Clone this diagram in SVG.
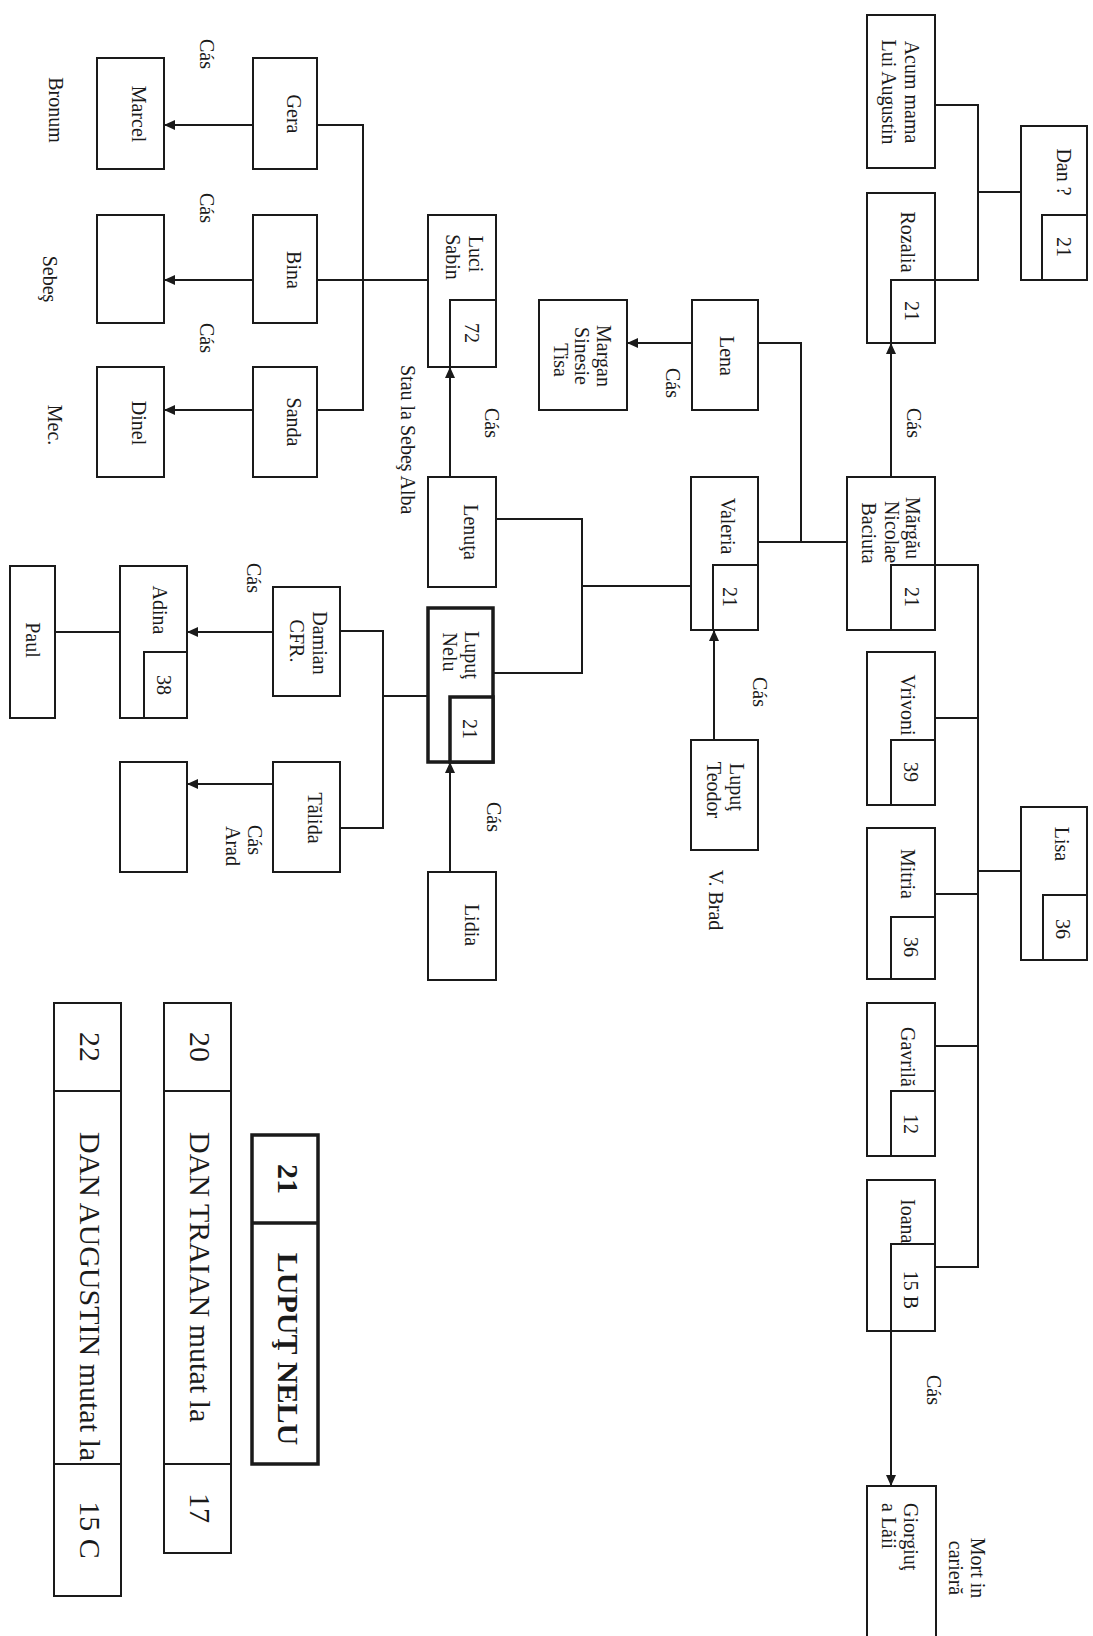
<svg xmlns="http://www.w3.org/2000/svg" width="1093" height="1636" viewBox="0 0 1093 1636">
<style>
.b{fill:#fff;stroke:#1a1a1a;stroke-width:2}
.bb{fill:#fff;stroke:#1a1a1a;stroke-width:3.5}
.c{fill:none;stroke:#1a1a1a;stroke-width:2}
.a{fill:none;stroke:#1a1a1a;stroke-width:2;marker-end:url(#ah)}
.t{font-family:"Liberation Serif","Times New Roman",serif;font-size:20px;fill:#1a1a1a;text-anchor:middle;dominant-baseline:central}
.s{text-anchor:start}
.L{font-size:30px}
.w{font-weight:bold}
</style>
<defs>
<marker id="ah" markerUnits="userSpaceOnUse" markerWidth="11" markerHeight="10" refX="11" refY="5" orient="auto">
<path d="M0,0 L11,5 L0,10 z" fill="#1a1a1a"/>
</marker>
</defs>
<rect x="0" y="0" width="1093" height="1636" fill="#fff"/>

<g id="connectors">
<polyline class="c" points="317,125 363,125 363,410 317,410"/>
<line class="c" x1="317" y1="280" x2="428" y2="280"/>
<line class="a" x1="253" y1="125" x2="164" y2="125"/>
<line class="a" x1="253" y1="280" x2="164" y2="280"/>
<line class="a" x1="253" y1="410" x2="164" y2="410"/>
<line class="a" x1="450" y1="477" x2="450" y2="367"/>
<polyline class="c" points="496,519 582,519 582,673 493,673"/>
<line class="c" x1="582" y1="586" x2="691" y2="586"/>
<line class="c" x1="428" y1="696" x2="383" y2="696"/>
<polyline class="c" points="340,631 383,631 383,828 340,828"/>
<line class="a" x1="273" y1="632" x2="187" y2="632"/>
<line class="a" x1="273" y1="784" x2="187" y2="784"/>
<line class="c" x1="120" y1="632" x2="55" y2="632"/>
<line class="a" x1="450" y1="872" x2="450" y2="762"/>
<line class="a" x1="692" y1="343" x2="627" y2="343"/>
<polyline class="c" points="758,343 801,343 801,542"/>
<line class="c" x1="758" y1="542" x2="847" y2="542"/>
<line class="a" x1="714" y1="740" x2="714" y2="630"/>
<line class="a" x1="891" y1="477" x2="891" y2="343"/>
<polyline class="c" points="935,105 978,105 978,280 935,280"/>
<line class="c" x1="1021" y1="192" x2="978" y2="192"/>
<polyline class="c" points="935,565 978,565 978,1267 935,1267"/>
<line class="c" x1="935" y1="718" x2="978" y2="718"/>
<line class="c" x1="935" y1="894" x2="978" y2="894"/>
<line class="c" x1="935" y1="1046" x2="978" y2="1046"/>
<line class="c" x1="978" y1="871" x2="1021" y2="871"/>
<line class="a" x1="891" y1="1331" x2="891" y2="1486"/>
</g>

<g id="n-marcel"><rect class="b" x="97" y="58" width="67" height="111"/><text class="t" transform="translate(139,114) rotate(90)">Marcel</text></g>
<g id="n-gera"><rect class="b" x="253" y="58" width="64" height="111"/><text class="t" transform="translate(294,114) rotate(90)">Gera</text></g>
<g id="n-bina"><rect class="b" x="253" y="215" width="64" height="108"/><text class="t" transform="translate(294,270) rotate(90)">Bina</text></g>
<g id="n-empty1"><rect class="b" x="97" y="215" width="67" height="108"/></g>
<g id="n-sanda"><rect class="b" x="253" y="367" width="64" height="110"/><text class="t" transform="translate(294,422) rotate(90)">Sanda</text></g>
<g id="n-dinel"><rect class="b" x="97" y="367" width="67" height="110"/><text class="t" transform="translate(139,423) rotate(90)">Dinel</text></g>
<g id="n-luci"><rect class="b" x="428" y="215" width="68" height="152"/>
<text class="t" transform="translate(476,254) rotate(90)">Luci</text>
<text class="t" transform="translate(453,257) rotate(90)">Sabin</text>
<rect class="b" x="450" y="300" width="46" height="67"/><text class="t" transform="translate(472,333) rotate(90)">72</text></g>
<g id="n-lenuta"><rect class="b" x="428" y="477" width="68" height="110"/><text class="t" transform="translate(471,532) rotate(90)">Lenuţa</text></g>
<g id="n-lupunelu"><rect class="bb" x="428" y="608" width="65" height="154"/>
<text class="t" transform="translate(472,655) rotate(90)">Lupuţ</text>
<text class="t" transform="translate(450,652) rotate(90)">Nelu</text>
<rect class="bb" x="450" y="697" width="43" height="65"/><text class="t" transform="translate(470,729) rotate(90)">21</text></g>
<g id="n-lidia"><rect class="b" x="428" y="872" width="68" height="108"/><text class="t" transform="translate(472,925) rotate(90)">Lidia</text></g>
<g id="n-damian"><rect class="b" x="273" y="587" width="67" height="109"/>
<text class="t" transform="translate(320,643) rotate(90)">Damian</text>
<text class="t" transform="translate(297,641) rotate(90)">CFR.</text></g>
<g id="n-talida"><rect class="b" x="273" y="762" width="67" height="110"/><text class="t" transform="translate(315,818) rotate(90)">Tălida</text></g>
<g id="n-adina"><rect class="b" x="120" y="566" width="67" height="152"/><text class="t" transform="translate(160,610) rotate(90)">Adina</text>
<rect class="b" x="144" y="652" width="43" height="66"/><text class="t" transform="translate(164,685) rotate(90)">38</text></g>
<g id="n-paul"><rect class="b" x="10" y="566" width="45" height="152"/><text class="t" transform="translate(33,640) rotate(90)">Paul</text></g>
<g id="n-empty2"><rect class="b" x="120" y="762" width="67" height="110"/></g>

<g id="n-acum"><rect class="b" x="867" y="15" width="68" height="153"/>
<text class="t" transform="translate(912,92) rotate(90)">Acum mama</text>
<text class="t" transform="translate(889,92) rotate(90)">Lui Augustin</text></g>
<g id="n-rozalia"><rect class="b" x="867" y="193" width="68" height="150"/><text class="t" transform="translate(908,242) rotate(90)">Rozalia</text>
<rect class="b" x="891" y="280" width="44" height="63"/><text class="t" transform="translate(912,311) rotate(90)">21</text></g>
<g id="n-dan"><rect class="b" x="1021" y="126" width="66" height="154"/><text class="t" transform="translate(1064,172) rotate(90)">Dan ?</text>
<rect class="b" x="1042" y="215" width="45" height="65"/><text class="t" transform="translate(1064,247) rotate(90)">21</text></g>
<g id="n-lena"><rect class="b" x="692" y="300" width="66" height="110"/><text class="t" transform="translate(727,356) rotate(90)">Lena</text></g>
<g id="n-margan"><rect class="b" x="539" y="300" width="88" height="110"/>
<text class="t" transform="translate(604,356) rotate(90)">Margan</text>
<text class="t" transform="translate(582,356) rotate(90)">Sinesie</text>
<text class="t" transform="translate(561,360) rotate(90)">Tisa</text></g>
<g id="n-valeria"><rect class="b" x="691" y="477" width="67" height="153"/><text class="t" transform="translate(728,526) rotate(90)">Valeria</text>
<rect class="b" x="713" y="565" width="45" height="65"/><text class="t" transform="translate(730,597) rotate(90)">21</text></g>
<g id="n-margau"><rect class="b" x="847" y="477" width="88" height="153"/>
<text class="t" transform="translate(913,528) rotate(90)">Mărgău</text>
<text class="t" transform="translate(892,532) rotate(90)">Nicolae</text>
<text class="t" transform="translate(869,533) rotate(90)">Baciuta</text>
<rect class="b" x="891" y="565" width="44" height="65"/><text class="t" transform="translate(912,597) rotate(90)">21</text></g>
<g id="n-teodor"><rect class="b" x="691" y="740" width="67" height="110"/>
<text class="t" transform="translate(737,787) rotate(90)">Lupuţ</text>
<text class="t" transform="translate(714,790) rotate(90)">Teodor</text></g>
<g id="n-vrivoni"><rect class="b" x="867" y="652" width="68" height="153"/><text class="t" transform="translate(908,705) rotate(90)">Vrivoni</text>
<rect class="b" x="891" y="740" width="44" height="65"/><text class="t" transform="translate(911,772) rotate(90)">39</text></g>
<g id="n-mitria"><rect class="b" x="867" y="828" width="68" height="151"/><text class="t" transform="translate(908,874) rotate(90)">Mitria</text>
<rect class="b" x="891" y="917" width="44" height="62"/><text class="t" transform="translate(911,947) rotate(90)">36</text></g>
<g id="n-lisa"><rect class="b" x="1021" y="807" width="66" height="153"/><text class="t" transform="translate(1062,844) rotate(90)">Lisa</text>
<rect class="b" x="1043" y="895" width="44" height="65"/><text class="t" transform="translate(1063,929) rotate(90)">36</text></g>
<g id="n-gavrila"><rect class="b" x="867" y="1003" width="68" height="153"/><text class="t" transform="translate(908,1057) rotate(90)">Gavrilă</text>
<rect class="b" x="891" y="1091" width="44" height="65"/><text class="t" transform="translate(911,1124) rotate(90)">12</text></g>
<g id="n-ioana"><rect class="b" x="867" y="1180" width="68" height="151"/><text class="t s" transform="translate(908,1199) rotate(90)">Ioana</text>
<rect class="b" x="891" y="1244" width="44" height="87"/><text class="t" transform="translate(911,1290) rotate(90)">15 B</text></g>
<g id="n-giorgiut"><rect class="b" x="867" y="1486" width="69" height="165"/>
<text class="t s" transform="translate(911,1503) rotate(90)">Giorgiuţ</text>
<text class="t s" transform="translate(889,1503) rotate(90)">a Lăii</text></g>

<g id="legend-lupu"><rect class="bb" x="252" y="1135" width="66" height="329"/><line class="bb" x1="252" y1="1223" x2="318" y2="1223"/>
<text class="t L w" transform="translate(288,1179) rotate(90)">21</text>
<text class="t L w" transform="translate(288,1349) rotate(90)">LUPUŢ NELU</text></g>
<g id="legend-traian"><rect class="b" x="164" y="1003" width="67" height="550"/>
<line class="c" x1="164" y1="1091" x2="231" y2="1091"/><line class="c" x1="164" y1="1464" x2="231" y2="1464"/>
<text class="t L" transform="translate(200,1047) rotate(90)">20</text>
<text class="t L s" transform="translate(200,1132) rotate(90)">DAN TRAIAN mutat la</text>
<text class="t L" transform="translate(200,1508) rotate(90)">17</text></g>
<g id="legend-augustin"><rect class="b" x="54" y="1003" width="67" height="593"/>
<line class="c" x1="54" y1="1091" x2="121" y2="1091"/><line class="c" x1="54" y1="1464" x2="121" y2="1464"/>
<text class="t L" transform="translate(90,1047) rotate(90)">22</text>
<text class="t L s" transform="translate(90,1132) rotate(90)">DAN AUGUSTIN mutat la</text>
<text class="t L" transform="translate(90,1530) rotate(90)">15 C</text></g>

<g id="labels">
<text class="t" transform="translate(207,54) rotate(90)">Cás</text>
<text class="t" transform="translate(207,208) rotate(90)">Cás</text>
<text class="t" transform="translate(207,338) rotate(90)">Cás</text>
<text class="t" transform="translate(56,110) rotate(90)">Bronum</text>
<text class="t" transform="translate(50,279) rotate(90)">Sebeş</text>
<text class="t" transform="translate(55,425) rotate(90)">Mec.</text>
<text class="t s" transform="translate(408,365) rotate(90)">Stau la Sebeş Alba</text>
<text class="t" transform="translate(492,423) rotate(90)">Cás</text>
<text class="t" transform="translate(254,578) rotate(90)">Cás</text>
<text class="t" transform="translate(255,840) rotate(90)">Cás</text>
<text class="t" transform="translate(233,846) rotate(90)">Arad</text>
<text class="t" transform="translate(494,817) rotate(90)">Cás</text>
<text class="t" transform="translate(673,383) rotate(90)">Cás</text>
<text class="t" transform="translate(914,423) rotate(90)">Cás</text>
<text class="t" transform="translate(760,692) rotate(90)">Cás</text>
<text class="t" transform="translate(716,900) rotate(90)">V. Brad</text>
<text class="t" transform="translate(934,1390) rotate(90)">Cás</text>
<text class="t" transform="translate(978,1568) rotate(90)">Mort in</text>
<text class="t" transform="translate(956,1568) rotate(90)">carieră</text>
</g>
</svg>
